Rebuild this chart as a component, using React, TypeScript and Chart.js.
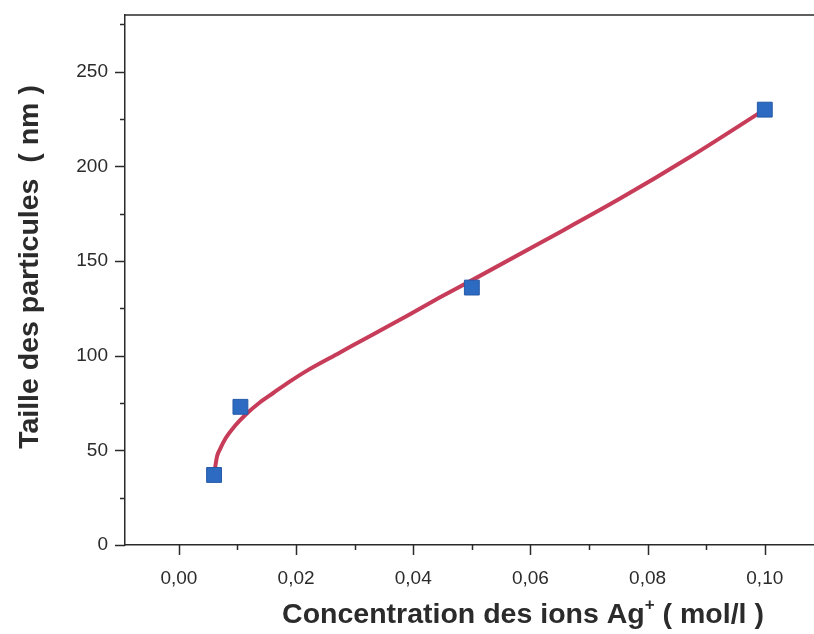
import React, { useEffect, useRef } from "react";
import { Chart, registerables } from "chart.js";

Chart.register(...registerables);

// Measured points (concentration Ag+ in mol/l, particle size in nm)
const pointX = [0.006, 0.0105, 0.05, 0.1];
const pointY = [37, 73, 136, 230];

// Fitted curve
const curveX = [0.006, 0.0065, 0.007, 0.008, 0.0095, 0.0115, 0.0138, 0.0161, 0.0189, 0.0218, 0.0275, 0.0332, 0.0389, 0.0445, 0.0502, 0.0625, 0.0753, 0.0875, 0.0997];
const curveY = [37, 46.7, 50.5, 56.5, 62.7, 69.2, 75.3, 80.3, 86.3, 92, 101.7, 111.4, 121, 130.7, 140.2, 161, 183, 205.5, 229.5];

const xTitle = "Concentration des ions Ag";
const xTitleSup = "+";
const xTitleEnd = " ( mol/l )";
const yTitle = "Taille des particules  ( nm )";

const FONT = "'Liberation Sans', Arial, sans-serif";

const frame = {
  id: "frame",
  afterDraw(chart: any) {
    const ctx = chart.ctx;
    const { left, top, right, bottom } = chart.chartArea;
    const xs = chart.scales.x;
    const ys = chart.scales.y;
    ctx.save();
    ctx.strokeStyle = "#2a2a2a";
    ctx.lineWidth = 1.5;
    // top border
    ctx.beginPath();
    ctx.moveTo(left, top);
    ctx.lineTo(right, top);
    ctx.stroke();
    // y ticks
    ys.ticks.forEach((t: any) => {
      const v = t.value;
      const major = Math.abs(v / 50 - Math.round(v / 50)) < 1e-6;
      const len = major ? 10 : 5;
      const py = Math.round(ys.getPixelForValue(v)) + 0.5;
      ctx.beginPath();
      ctx.moveTo(left - len, py);
      ctx.lineTo(left, py);
      ctx.stroke();
    });
    // x ticks
    xs.ticks.forEach((t: any) => {
      const v = t.value;
      const major = Math.abs(v / 0.02 - Math.round(v / 0.02)) < 1e-6;
      const len = major ? 10 : 5;
      const px = Math.round(xs.getPixelForValue(v)) + 0.5;
      ctx.beginPath();
      ctx.moveTo(px, bottom);
      ctx.lineTo(px, bottom + len);
      ctx.stroke();
    });
    // x title
    ctx.fillStyle = "#2b2b2b";
    ctx.textBaseline = "alphabetic";
    ctx.textAlign = "left";
    const big = `bold 28.5px ${FONT}`;
    const small = `bold 17px ${FONT}`;
    ctx.font = big;
    const w1 = ctx.measureText(xTitle).width;
    ctx.font = small;
    const w2 = ctx.measureText(xTitleSup).width;
    ctx.font = big;
    const w3 = ctx.measureText(xTitleEnd).width;
    const total = w1 + w2 + w3;
    const cx = 523;
    const by = 623;
    const x0 = cx - total / 2;
    ctx.fillText(xTitle, x0, by);
    ctx.font = small;
    ctx.fillText(xTitleSup, x0 + w1, by - 13);
    ctx.font = big;
    ctx.fillText(xTitleEnd, x0 + w1 + w2, by);
    // y title
    ctx.translate(30, 267);
    ctx.rotate(-Math.PI / 2);
    ctx.textAlign = "center";
    ctx.textBaseline = "middle";
    ctx.font = `bold 28.5px ${FONT}`;
    ctx.fillText(yTitle, 0, 0);
    ctx.restore();
  },
};

export default function App() {
  const ref = useRef<HTMLCanvasElement | null>(null);
  useEffect(() => {
    if (!ref.current) return;
    const chart = new Chart(ref.current, {
      type: "scatter",
      data: {
        datasets: [
          {
            label: "points",
            data: pointX.map((x, i) => ({ x, y: pointY[i] })),
            pointStyle: "rect",
            pointRadius: 10.5,
            backgroundColor: "#2d6bc2",
            borderColor: "#2459a8",
            borderWidth: 1,
            showLine: false,
            order: 0,
          },
          {
            label: "fit",
            data: curveX.map((x, i) => ({ x, y: curveY[i] })),
            showLine: true,
            pointRadius: 0,
            borderColor: "#c73c59",
            borderWidth: 4,
            cubicInterpolationMode: "monotone",
            fill: false,
            order: 1,
          },
        ],
      },
      options: {
        animation: false,
        responsive: false,
        maintainAspectRatio: false,
        layout: { autoPadding: false, padding: { top: 15, right: 0, left: 0, bottom: 0 } },
        plugins: { legend: { display: false }, tooltip: { enabled: false } },
        scales: {
          x: {
            type: "linear",
            min: -0.0092,
            max: 0.1084,
            grid: { display: true, drawOnChartArea: false, drawTicks: true, tickLength: 10, tickColor: "rgba(0,0,0,0)" },
            border: { display: true, color: "#2a2a2a", width: 1.5 },
            ticks: {
              stepSize: 0.01,
              includeBounds: false,
              autoSkip: false,
              maxRotation: 0,
              minRotation: 0,
              padding: 12,
              color: "#2b2b2b",
              font: { family: FONT, size: 19 },
              callback: (v: any) => {
                const n = Number(v);
                const k = Math.round(n * 100);
                if (k % 2 !== 0) return "";
                return (k / 100).toFixed(2).replace(".", ",");
              },
            },
            afterFit: (s: any) => {
              s.height = 89;
              s.paddingLeft = 0;
              s.paddingRight = 0;
            },
          },
          y: {
            type: "linear",
            min: 0,
            max: 280,
            grid: { display: true, drawOnChartArea: false, drawTicks: true, tickLength: 10, tickColor: "rgba(0,0,0,0)" },
            border: { display: true, color: "#2a2a2a", width: 1.5 },
            ticks: {
              stepSize: 25,
              includeBounds: false,
              autoSkip: false,
              padding: 7,
              color: "#2b2b2b",
              font: { family: FONT, size: 19 },
              callback: (v: any) => {
                const n = Math.round(Number(v));
                return n % 50 === 0 ? String(n) : "";
              },
            },
            afterFit: (s: any) => {
              s.width = 125;
              s.paddingTop = 0;
              s.paddingBottom = 0;
            },
          },
        },
      },
      plugins: [frame],
    });
    return () => chart.destroy();
  }, []);
  return (
    <div style={{ position: "fixed", left: 0, top: 0, width: 814, height: 634, background: "#fff", overflow: "hidden" }}>
      <canvas ref={ref} width={814} height={634} style={{ display: "block", width: 814, height: 634 }} />
    </div>
  );
}
